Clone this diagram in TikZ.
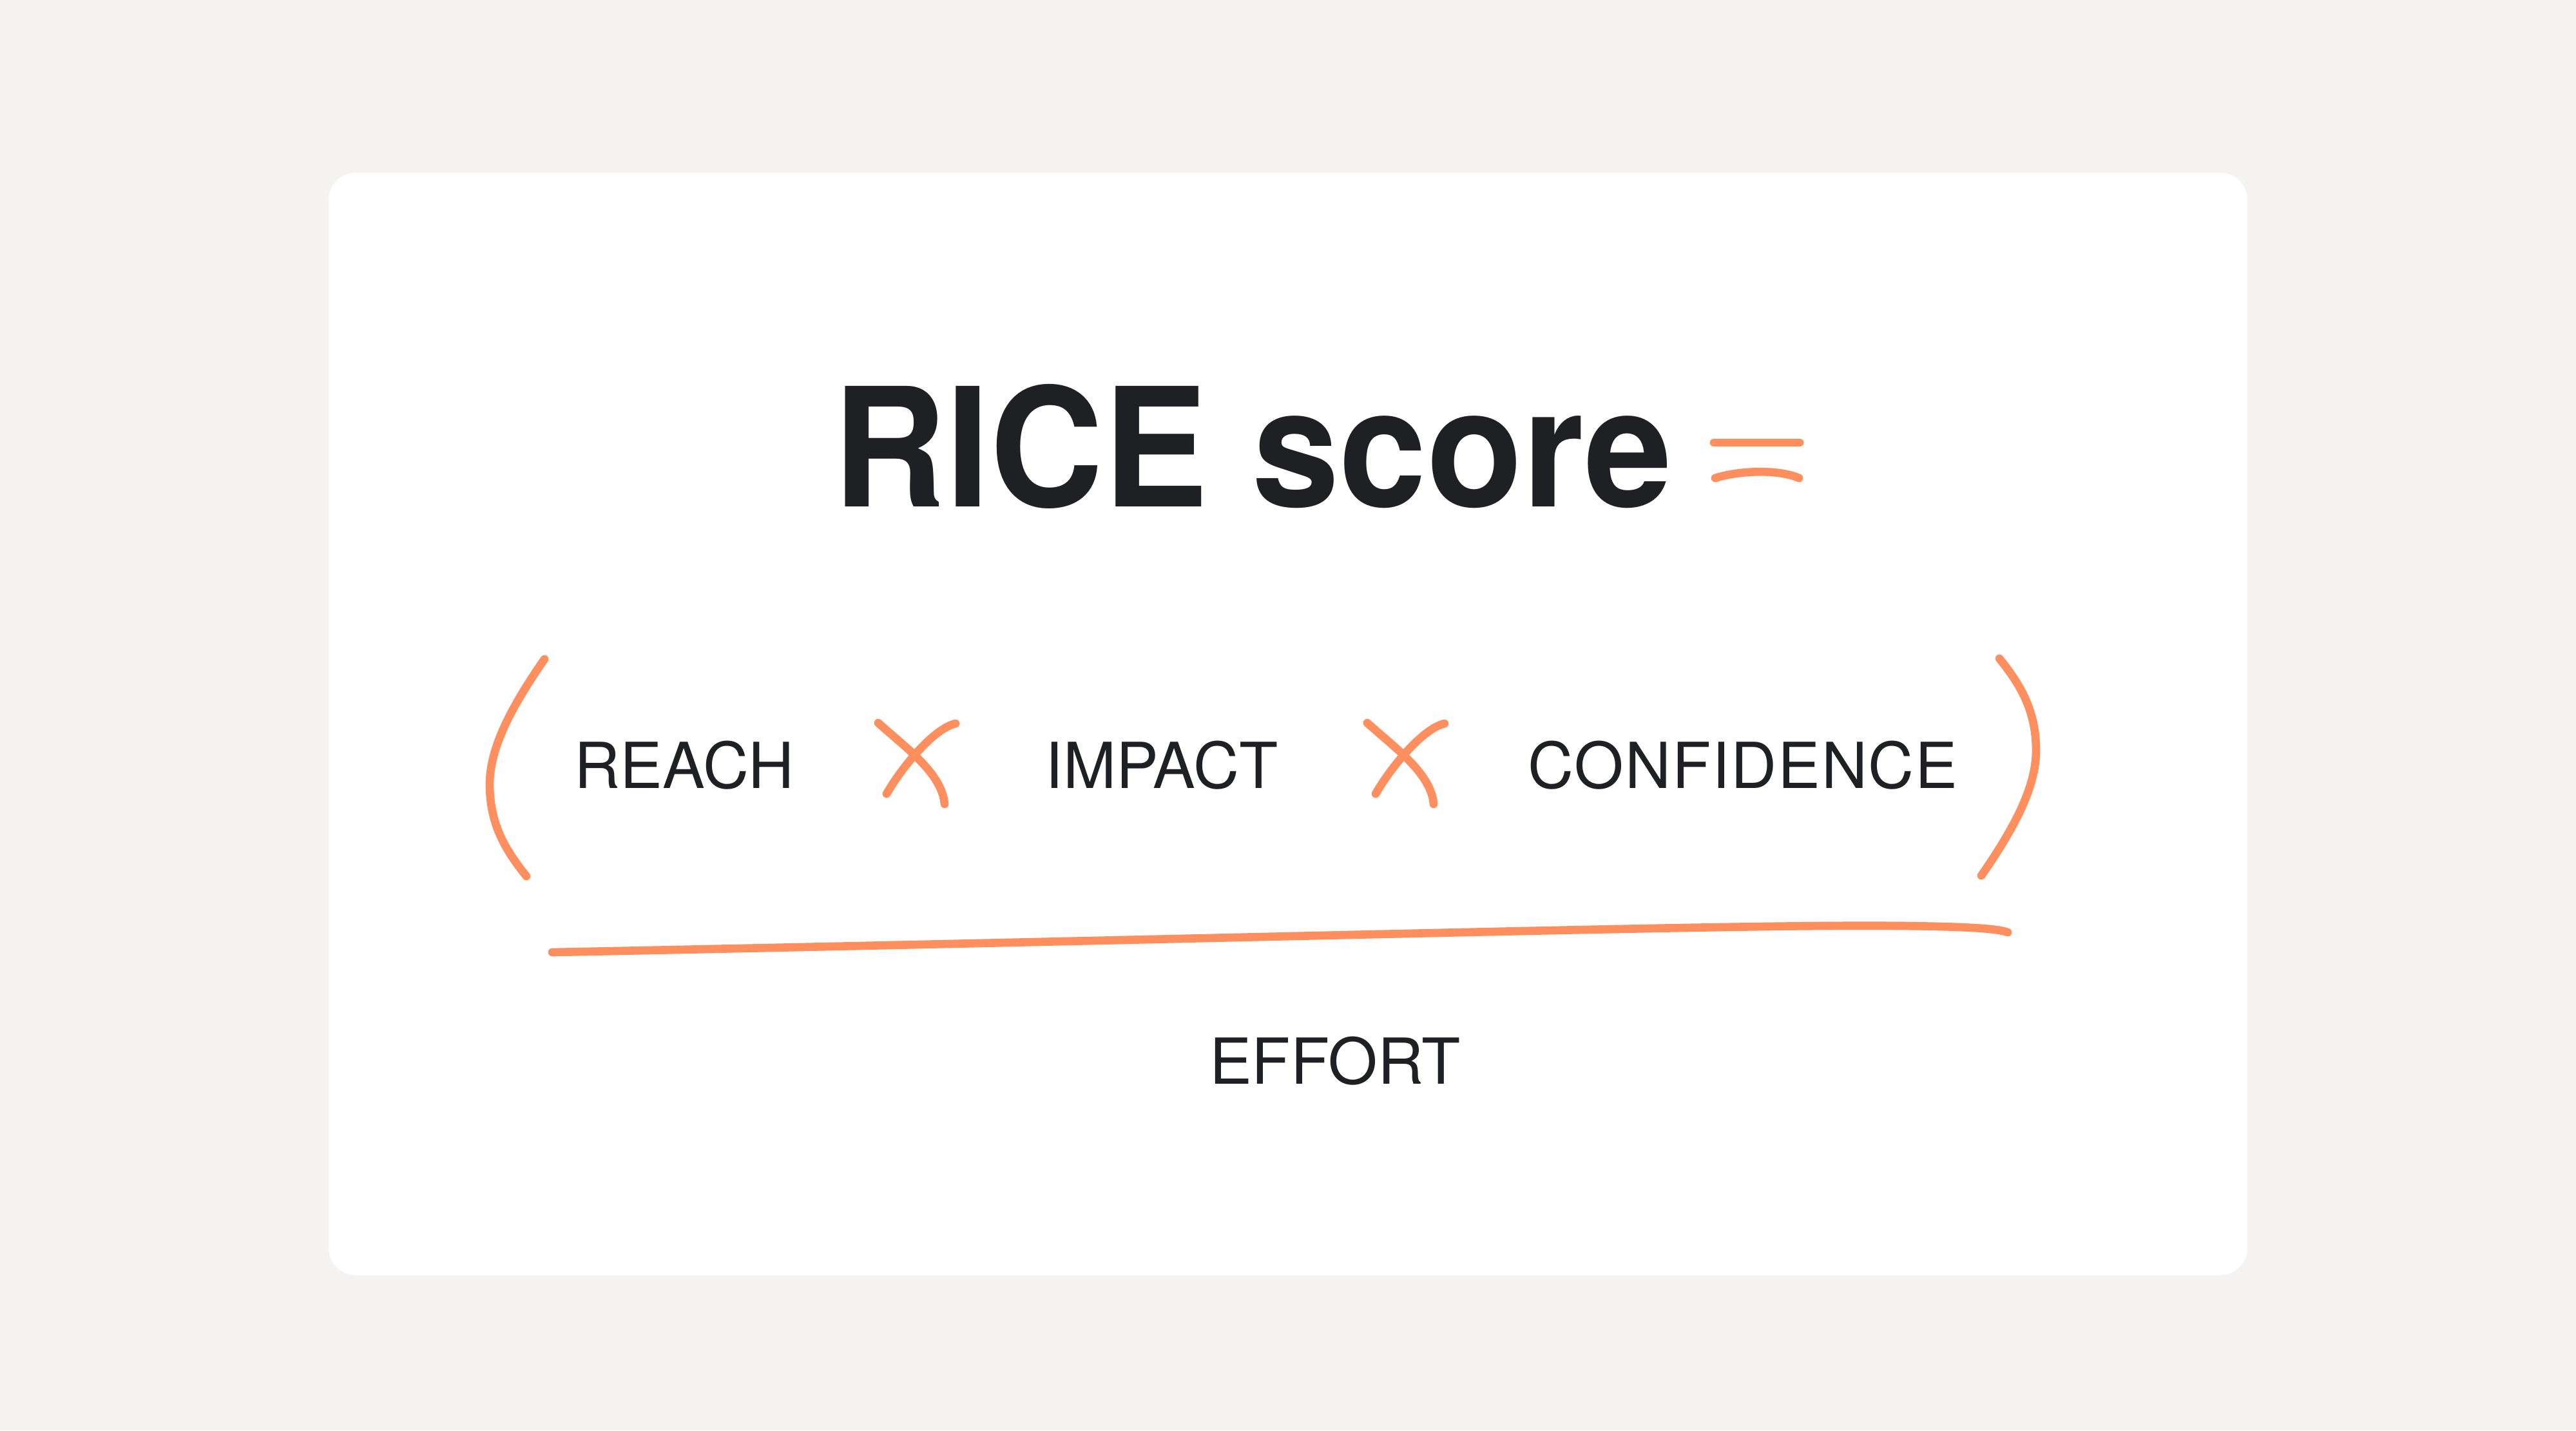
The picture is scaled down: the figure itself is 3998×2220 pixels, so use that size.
\documentclass[tikz,border=0pt]{standalone}
\usepackage{fontspec}
\setmainfont{TeX Gyre Heros}
\definecolor{bgc}{HTML}{F4F3F1}
\definecolor{ink}{HTML}{1F2023}
\definecolor{orng}{HTML}{FF8F5E}
\begin{document}
\begin{tikzpicture}[x=0.01cm,y=-0.01cm,
  stroke/.style={draw=orng,line width=3.6pt,line cap=round,line join=round},
  lbl/.style={text=ink,inner sep=0pt,anchor=base,font=\fontsize{28}{32}\selectfont},
  ttl/.style={text=ink,inner sep=0pt,anchor=base,font=\fontsize{73}{80}\selectfont\bfseries}]
\fill[bgc] (0,0) rectangle (3998,2220);
\useasboundingbox (0,0) rectangle (3998,2220);
\fill[white,rounded corners=0.42cm] (510,268) rectangle (3488,1979);
% title
\node[ttl] (title) at (1944,786) {\scalebox{0.95}[1]{RICE score}};
% equals sign
\coordinate (eqa) at (2660,687);
\coordinate (eqb) at (2793,687);
\draw[stroke] (eqa) -- (eqb);
\coordinate (eqc) at (2662,742);
\coordinate (eqd) at (2792,742);
\draw[stroke] (eqc) .. controls (2700,730) and (2760,728) .. (eqd);
% labels
\node[lbl] (reach) at (1062,1223) {REACH};
\node[lbl] (impact) at (1803,1223) {IMPACT};
\node[lbl] (conf) at (2705,1223) {\addfontfeature{LetterSpace=2}CONFIDENCE};
\node[lbl] (effort) at (2072,1682) {EFFORT};
% multiplication signs
\foreach \dx in {0,759}{
  \begin{scope}[xshift=\dx*0.01cm]
  \draw[stroke] (1363,1122) .. controls (1405,1160) and (1462,1200) .. (1466,1248);
  \draw[stroke] (1483,1123) .. controls (1450,1130) and (1400,1190) .. (1376,1232);
  \end{scope}
}
% brackets
\draw[stroke] (845,1023) .. controls (795,1095) and (760,1160) .. (760,1217)
  .. controls (760,1280) and (785,1320) .. (817,1360);
\draw[stroke] (3075,1359) .. controls (3125,1287) and (3160,1222) .. (3160,1165)
  .. controls (3160,1102) and (3135,1062) .. (3103,1022);
% fraction line
\draw[stroke] (857,1478) .. controls (2000,1455) and (2700,1434) .. (2950,1437)
  .. controls (3050,1438) and (3100,1441) .. (3116,1447);
\end{tikzpicture}
\end{document}
